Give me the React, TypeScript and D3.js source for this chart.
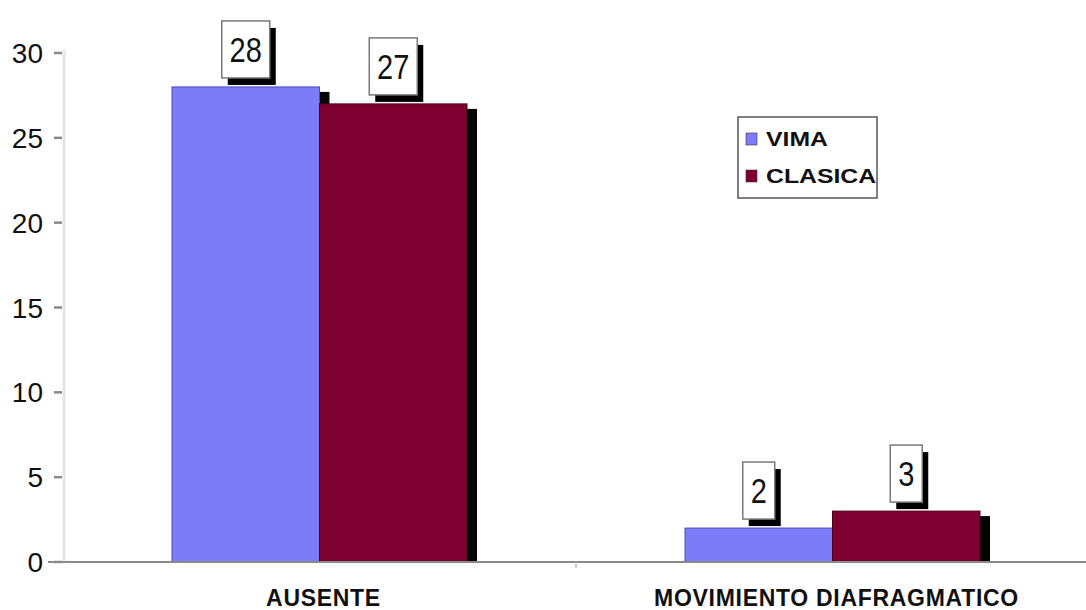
import React from "react";
import * as d3 from "d3";

// Categories, series and values
const categories = ["AUSENTE", "MOVIMIENTO DIAFRAGMATICO"];
const seriesNames = ["VIMA", "CLASICA"];
const vimaValues = [28, 2];
const clasicaValues = [27, 3];
const yTicks = [0, 5, 10, 15, 20, 25, 30];

const seriesColors: Record<string, string> = { VIMA: "#7c7cf9", CLASICA: "#7e0030" };
const seriesStroke: Record<string, string> = { VIMA: "#4a4ab8", CLASICA: "#4e0018" };

const W = 1086;
const H = 610;
const FONT = "'Liberation Sans', Arial, sans-serif";

export default function App() {
  const x0 = d3.scaleBand<string>().domain(categories).range([63, 1089]);
  const x1 = d3
    .scaleBand<string>()
    .domain(seriesNames)
    .range([109, x0.bandwidth() - 109]);
  const y = d3.scaleLinear().domain([0, 30]).range([562, 53]);

  const rows = categories.map((c, i) => ({
    category: c,
    values: [
      { key: "VIMA", value: vimaValues[i] },
      { key: "CLASICA", value: clasicaValues[i] },
    ],
  }));

  const bars = rows.flatMap((r) =>
    r.values.map((v) => ({
      category: r.category,
      key: v.key,
      value: v.value,
      x: (x0(r.category) as number) + (x1(v.key) as number),
      w: x1.bandwidth(),
      top: y(v.value),
    }))
  );

  const base = y(0);
  const shadowDx = 10;
  const shadowDy = 5;

  return (
    <svg
      width={W}
      height={H}
      style={{ position: "absolute", left: 0, top: 0, background: "#fff" }}
      fontFamily={FONT}
    >
      <rect width={W} height={H} fill="#fff" />

      {/* light vertical axis line */}
      <line x1={64} x2={64} y1={y(30) - 3} y2={base} stroke="#e6e6e6" strokeWidth={3} />

      {/* y ticks and labels */}
      {yTicks.map((t) => (
        <g key={t}>
          <line x1={54} x2={62} y1={y(t)} y2={y(t)} stroke="#8a8a8a" strokeWidth={2.5} />
          <text
            x={43}
            y={y(t) + 10}
            textAnchor="end"
            fontSize={28}
            fill="#111"
          >
            {t}
          </text>
        </g>
      ))}

      {/* bar shadows */}
      {bars.map((b) => (
        <rect
          key={"s" + b.category + b.key}
          x={b.x + shadowDx}
          y={b.top + shadowDy}
          width={b.w}
          height={Math.max(0, base - b.top - shadowDy)}
          fill="#050505"
        />
      ))}

      {/* bars */}
      {bars.map((b) => (
        <rect
          key={"b" + b.category + b.key}
          x={b.x}
          y={b.top}
          width={b.w}
          height={base - b.top}
          fill={seriesColors[b.key]}
          stroke={seriesStroke[b.key]}
          strokeWidth={1}
        />
      ))}

      {/* baseline */}
      <line x1={48} x2={W} y1={base} y2={base} stroke="#8a8a8a" strokeWidth={2} />
      {[x0(categories[1]) as number].map((xb) => (
        <line key={xb} x1={xb} x2={xb} y1={base} y2={base + 6} stroke="#bbb" strokeWidth={1.5} />
      ))}

      {/* category labels */}
      {categories.map((c) => (
        <text
          key={c}
          x={(x0(c) as number) + x0.bandwidth() / 2 + 4}
          y={606}
          textAnchor="middle"
          fontSize={23}
          fontWeight="bold"
          fill="#111"
          letterSpacing={0.7}
        >
          {c}
        </text>
      ))}

      {/* value boxes */}
      {bars.map((b) => {
        const label = String(b.value);
        const tw = label.length * 16;
        const bw = tw + 16;
        const bh = 57;
        const cx = b.x + b.w / 2;
        const bottom = b.top - 9;
        const top = bottom - bh;
        return (
          <g key={"l" + b.category + b.key}>
            <rect x={cx - bw / 2 + 6} y={top + 7} width={bw} height={bh} fill="#000" />
            <rect
              x={cx - bw / 2}
              y={top}
              width={bw}
              height={bh}
              fill="#fff"
              stroke="#7a7a7a"
              strokeWidth={1.5}
            />
            <g transform={`translate(${cx},${top + bh / 2}) scale(1,1.2)`}>
              <text x={0} y={10.4} textAnchor="middle" fontSize={29} fill="#111">
                {label}
              </text>
            </g>
          </g>
        );
      })}

      {/* legend */}
      <g>
        <rect x={738} y={117} width={139} height={81} fill="#fff" stroke="#555" strokeWidth={1.5} />
        {seriesNames.map((s, i) => {
          const baseline = 146 + i * 37;
          return (
            <g key={s}>
              <rect
                x={746}
                y={baseline - 13}
                width={11}
                height={12}
                fill={seriesColors[s]}
                stroke="#333"
                strokeWidth={0.6}
              />
              <g transform={`translate(766,${baseline}) scale(1.18,1)`}>
                <text x={0} y={0} fontSize={21} fontWeight="bold" fill="#111">
                  {s}
                </text>
              </g>
            </g>
          );
        })}
      </g>
    </svg>
  );
}
